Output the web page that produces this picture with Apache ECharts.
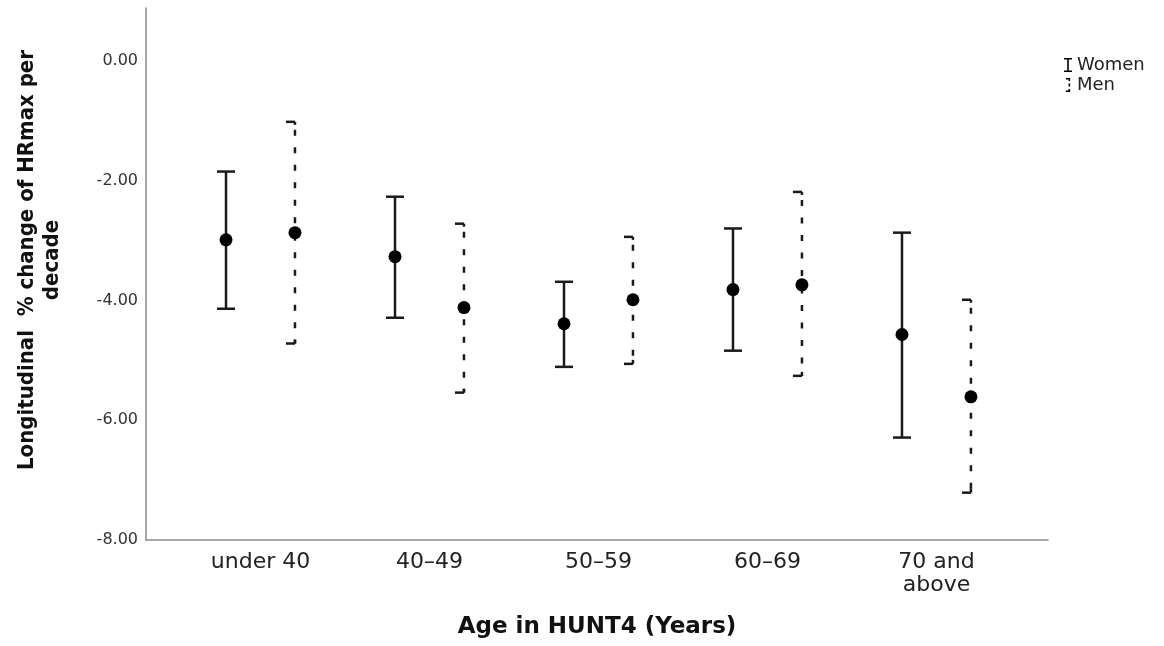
<!DOCTYPE html>
<html>
<head>
<meta charset="utf-8">
<title>HRmax change per decade</title>
<script src="https://cdn.jsdelivr.net/npm/echarts@6/dist/echarts.min.js"></script>
<style>
  html, body { margin: 0; padding: 0; background: #fff; }
  #chart { width: 1164px; height: 646px; }
</style>
</head>
<body>
<div id="chart"></div>
<script>
// age groups in HUNT4
var categories = ['under 40', '40\u201349', '50\u201359', '60\u201369', '70 and\nabove'];

// mean and 95% CI, % change per decade
var womenMean = [-2.99, -3.27, -4.39, -3.82, -4.57];
var womenLow  = [-4.14, -4.29, -5.11, -4.84, -6.29];
var womenHigh = [-1.85, -2.27, -3.69, -2.80, -2.87];

var menMean = [-2.87, -4.12, -3.99, -3.74, -5.61];
var menLow  = [-4.72, -5.54, -5.06, -5.26, -7.21];
var menHigh = [-1.02, -2.72, -2.94, -2.19, -3.99];

var yTicks = [-8, -6, -4, -2, 0];

var chart = echarts.init(document.getElementById('chart'));

// women left of the group centre, men right of it
var shift = 0.204;

function rows(mean, low, high, off){
    var out = [];
    for(var i=0; i<categories.length; i++){
        out.push([i + off, mean[i], low[i], high[i]]);
    }
    return out;
}

function errorBar(dashed){
    return function(params, api){
        var x = api.value(0);
        var top = api.coord([x, api.value(3)]);
        var bot = api.coord([x, api.value(2)]);
        var mid = api.coord([x, api.value(1)]);
        var cap = 9;
        var stroke = {stroke: '#1a1a1a', lineWidth: 2.5};
        var kids = [];
        kids.push({
            type: 'line',
            shape: {x1: top[0], y1: top[1], x2: bot[0], y2: bot[1]},
            style: dashed ? {stroke: '#1a1a1a', lineWidth: 2.5, lineDash: [6, 11.5], lineDashOffset: -8} : stroke
        });
        if(dashed){
            // half caps, only on the left
            kids.push({type: 'line', shape: {x1: top[0]-cap, y1: top[1], x2: top[0], y2: top[1]}, style: stroke});
            kids.push({type: 'line', shape: {x1: top[0], y1: top[1], x2: top[0], y2: top[1]+3}, style: stroke});
            kids.push({type: 'line', shape: {x1: bot[0]-cap, y1: bot[1], x2: bot[0], y2: bot[1]}, style: stroke});
            kids.push({type: 'line', shape: {x1: bot[0], y1: bot[1], x2: bot[0], y2: bot[1]-4}, style: stroke});
        }else{
            kids.push({type: 'line', shape: {x1: top[0]-cap, y1: top[1], x2: top[0]+cap, y2: top[1]}, style: stroke});
            kids.push({type: 'line', shape: {x1: bot[0]-cap, y1: bot[1], x2: bot[0]+cap, y2: bot[1]}, style: stroke});
        }
        kids.push({type: 'circle', shape: {cx: mid[0], cy: mid[1], r: 6.5}, style: {fill: '#000'}});
        return {type: 'group', children: kids};
    };
}

var womenIcon = 'path://M0,0H8V1.6H0Z M3.2,0H4.8V14H3.2Z M0,12.4H8V14H0Z';
var menIcon   = 'path://M0.5,0H4.8V1.6H0.5Z M3.2,0H4.8V3H3.2Z M3.2,5.5H4.8V8.5H3.2Z M3.2,11H4.8V14H3.2Z M0.5,12.4H4.8V14H0.5Z';

var option = {
    animation: false,
    grid: {
        left: 146,
        right: 116,
        top: 8,
        bottom: 106,
        outerBoundsMode: 'none'
    },
    legend: {
        orient: 'vertical',
        left: 1059,
        top: 51,
        itemWidth: 8,
        itemHeight: 14,
        itemGap: 2,
        textStyle: {fontSize: 18, color: '#222', fontFamily: 'DejaVu Sans'},
        data: [
            {name: 'Women', icon: womenIcon},
            {name: 'Men', icon: menIcon}
        ]
    },
    xAxis: {
        type: 'value',
        min: -0.6775,
        max: 4.66,
        name: 'Age in HUNT4 (Years)',
        nameLocation: 'middle',
        nameGap: 76,
        nameTextStyle: {fontSize: 23, fontWeight: 'bold', color: '#111', fontFamily: 'DejaVu Sans'},
        axisLine: {show: true, onZero: false, lineStyle: {color: '#8c8c8c', width: 1.5}},
        axisTick: {show: false},
        splitLine: {show: false},
        axisLabel: {
            customValues: [0, 1, 2, 3, 4],
            formatter: function(v){ return categories[Math.round(v)]; },
            fontSize: 22,
            lineHeight: 23,
            color: '#222',
            fontFamily: 'DejaVu Sans',
            margin: 11
        }
    },
    yAxis: {
        type: 'value',
        min: -8,
        max: 0.88,
        name: 'Longitudinal  % change of HRmax per\ndecade',
        nameLocation: 'middle',
        nameRotate: 90,
        nameGap: 81,
        nameTextStyle: {
            fontSize: 22,
            fontWeight: 'bold',
            color: '#111',
            lineHeight: 25,
            fontFamily: "'Liberation Sans Narrow', 'DejaVu Sans Condensed', sans-serif",
            padding: [0, 0, 0, 28]
        },
        axisLine: {show: true, onZero: false, lineStyle: {color: '#8c8c8c', width: 1.5}},
        axisTick: {show: false},
        splitLine: {show: false},
        axisLabel: {
            customValues: yTicks,
            formatter: function(v){ return v.toFixed(2); },
            fontSize: 16,
            color: '#333',
            fontFamily: 'DejaVu Sans',
            margin: 8
        }
    },
    series: [
        {
            name: 'Women',
            type: 'custom',
            itemStyle: {color: '#000'},
            renderItem: errorBar(false),
            encode: {x: 0, y: [1, 2, 3]},
            data: rows(womenMean, womenLow, womenHigh, -shift)
        },
        {
            name: 'Men',
            type: 'custom',
            itemStyle: {color: '#000'},
            renderItem: errorBar(true),
            encode: {x: 0, y: [1, 2, 3]},
            data: rows(menMean, menLow, menHigh, shift)
        }
    ]
};

chart.setOption(option);
</script>
</body>
</html>
